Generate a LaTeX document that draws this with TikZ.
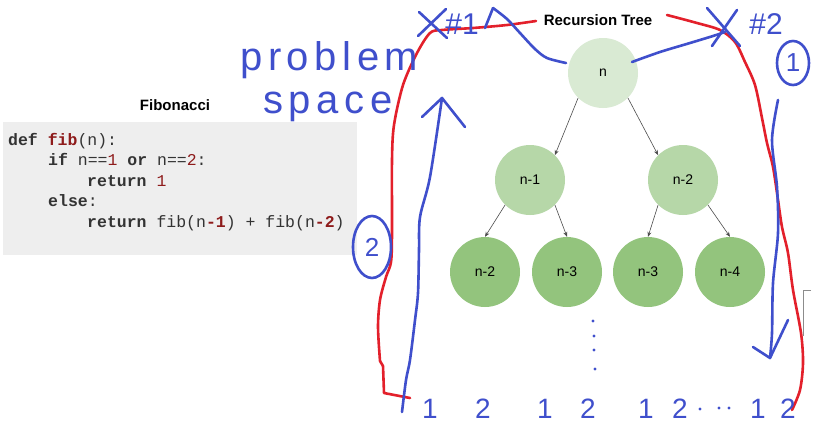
\documentclass[tikz,border=0pt]{standalone}
\usepackage{fontspec}
\setmainfont{Liberation Sans}
\setmonofont{Liberation Mono}
\newfontfamily\handfont[LetterSpace=14]{Liberation Sans}
\usetikzlibrary{arrows.meta,shapes.geometric}
\definecolor{pen}{HTML}{3F4FCC}
\definecolor{ink}{HTML}{E3202B}
\definecolor{gA}{HTML}{D9EAD3}
\definecolor{gB}{HTML}{B6D7A8}
\definecolor{gC}{HTML}{93C47D}
\definecolor{codebg}{HTML}{EEEEEE}
\definecolor{codefg}{HTML}{333333}
\definecolor{codered}{HTML}{8E1B1B}
\begin{document}
\begin{tikzpicture}[x=1pt,y=-1pt,
 tnode/.style={circle, minimum size=70pt, inner sep=0pt, font=\fontsize{14}{16}\selectfont},
 tarrow/.style={draw=black!70, line width=0.6pt, -{Stealth[length=5pt,width=4pt]}},
 codeline/.style={anchor=base west, inner sep=0pt, text=codefg, font=\ttfamily\fontsize{16.5}{20}\selectfont},
 titletext/.style={font=\bfseries\fontsize{15}{18}\selectfont, inner sep=0pt},
 bluepen/.style={draw=pen, line width=2.6pt, line cap=round, line join=round},
 redpen/.style={draw=ink, line width=2.6pt, line cap=round, line join=round},
 hand/.style={text=pen, inner sep=0pt, font=\fontsize{30}{32}\selectfont},
 handnum/.style={text=pen, inner sep=0pt, anchor=base, font=\fontsize{28}{30}\selectfont},
 handbig/.style={text=pen, inner sep=0pt, anchor=base west, font=\handfont\fontsize{40}{42}\selectfont},
 ring/.style={draw=pen, line width=2.6pt, ellipse, inner sep=0pt, text=pen, font=\fontsize{26}{28}\selectfont},
 dotpt/.style={fill=pen, draw=none},
]
\useasboundingbox (0,0) rectangle (834,424);
\fill[white] (0,0) rectangle (834,424);

% ---- code panel ----
\node[titletext] (fibtitle) at (175,105) {Fibonacci};
\fill[codebg] (3,122) rectangle (357,255);
\node[codeline] (l1) at (8,145) {\textbf{def} \textbf{\color{codered}fib}(n):};
\node[codeline] (l2) at (48,165) {\textbf{if} n==\textcolor{codered}{1} \textbf{or} n==\textcolor{codered}{2}:};
\node[codeline] (l3) at (87,186) {\textbf{return} \textcolor{codered}{1}};
\node[codeline] (l4) at (48,206) {\textbf{else}:};
\node[codeline] (l5) at (87,227) {\textbf{return} fib(n\textbf{\color{codered}-1}) + fib(n\textbf{\color{codered}-2})};

% ---- recursion tree ----
\node[titletext] (rtitle) at (598,20) {Recursion Tree};
\node[tnode, fill=gA] (r) at (603,73) {n};
\node[tnode, fill=gB] (a) at (530,180) {n-1};
\node[tnode, fill=gB] (b) at (683,180) {n-2};
\node[tnode, fill=gC] (c1) at (485,272) {n-2};
\node[tnode, fill=gC] (c2) at (567,272) {n-3};
\node[tnode, fill=gC] (c3) at (648,272) {n-3};
\node[tnode, fill=gC] (c4) at (730,272) {n-4};
\draw[tarrow] (r.225) -- (a.45);
\draw[tarrow] (r.315) -- (b.135);
\draw[tarrow] (a.225) -- (c1.90);
\draw[tarrow] (a.315) -- (c2.90);
\draw[tarrow] (b.225) -- (c3.90);
\draw[tarrow] (b.315) -- (c4.90);

% gray fragment at right
\draw[black!45, line width=0.8pt] (811,290) -- (803,290) -- (803,336);

% ---- red pen ----
\draw[redpen] (410,398) -- (384,393) -- (383,366) -- (380,361)
  plot[smooth, tension=0.5] coordinates {(380,361) (378,327) (380,300) (386,277) (391,262) (392,233) (392,160) (394,125) (403,85) (417,53) (430,33) (442,30) (473,28) (507,25) (536,21)};
\draw[redpen] plot[smooth, tension=0.5] coordinates {(667,15) (697,23) (720,30) (735,42) (745,62) (755,85) (762,118) (767,143) (773,167) (778,200) (782,227) (788,253) (793,290) (801,333) (803,363) (800,390) (792,410)};

% ---- blue pen ----
% left upward arrow
\draw[bluepen] plot[smooth, tension=0.5] coordinates {(402,412) (406,380) (410,360) (415,320) (418,293) (419,250) (420,217) (430,177) (442,98)};
\draw[bluepen] (422,117) -- (442,98) -- (465,127);
% right downward arrow
\draw[bluepen] plot[smooth, tension=0.5] coordinates {(778,100) (772,140) (777,187) (778,233) (773,283) (772,333) (770,358)};
\draw[bluepen] (753,347) -- (770,358) -- (788,320);
% from n to #1
\draw[bluepen] plot[smooth, tension=0.5] coordinates {(566,63) (547,58) (535,49) (520,33) (507,19) (493,8)};
\draw[bluepen] (493,8) -- (485,28);
% from n to #2
\draw[bluepen] plot[smooth, tension=0.5] coordinates {(632,62) (660,52) (690,43) (713,36) (725,32)};
% crosses
\draw[bluepen] (419,12) -- (447,38);
\draw[bluepen] (418,36) -- (446,9);
\draw[bluepen] (707,8) -- (740,46);
\draw[bluepen] (712,46) -- (737,10);
\node[hand] (h1) at (462,24) {\#1};
\node[hand] (h2) at (766,24) {\#2};
% circled numbers
\node[ring, minimum width=32pt, minimum height=44pt] (o1) at (793,63) {1};
\node[ring, minimum width=38pt, minimum height=62pt] (o2) at (372,247) {2};
% problem space
\node[handbig] (ps1) at (240,70) {problem};
\node[handbig] (ps2) at (263,113) {space};
% vertical dots
\fill[dotpt] (593,321) circle (1.6);
\fill[dotpt] (594,336) circle (1.6);
\fill[dotpt] (594,350) circle (1.6);
\fill[dotpt] (595,369) circle (1.6);
% bottom numbers
\node[handnum] (n1) at (430,418) {1};
\node[handnum] (n2) at (483,418) {2};
\node[handnum] (n3) at (545,418) {1};
\node[handnum] (n4) at (588,418) {2};
\node[handnum] (n5) at (646,418) {1};
\node[handnum] (n6) at (680,418) {2};
\fill[dotpt] (700,409) circle (1.6);
\fill[dotpt] (719,408) circle (1.6);
\fill[dotpt] (729,408) circle (1.6);
\node[handnum] (n7) at (758,418) {1};
\node[handnum] (n8) at (788,418) {2};
\end{tikzpicture}
\end{document}
